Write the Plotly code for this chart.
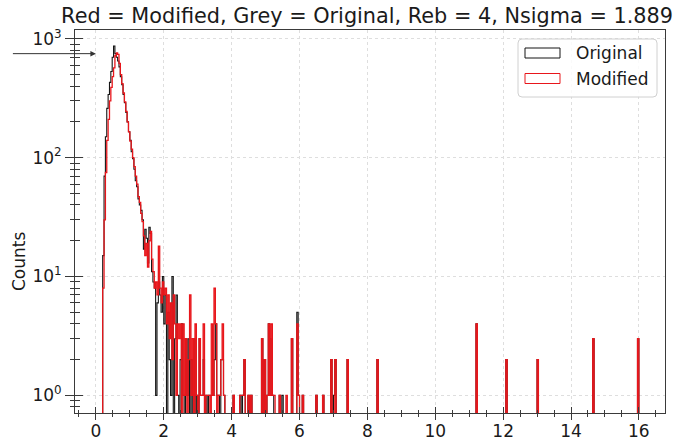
import numpy as np
import plotly.graph_objects as go

# ---------------- data ----------------
bin_start = 0.20
bin_width = 0.04
n_bins = 395

# counts of the dense core, bins starting at 0.20, 0.24, ... 2.96
original_core = [15, 70, 150, 260, 340, 430, 530, 700, 870, 750,
                 700, 650, 580, 480, 410, 340, 290, 240, 200, 165,
                 140, 112, 98, 80, 64, 57, 45, 40, 36, 30,
                 17, 25, 21, 13, 26, 23, 11, 9, 8, 1,
                 6, 9, 7, 5, 10, 4, 7, 0, 5, 2,
                 1, 10, 0, 3, 7, 1, 0, 2, 4, 1,
                 0, 3, 1, 3, 0, 2, 0, 3, 0, 1]
modified_core = [8, 30, 75, 140, 210, 300, 390, 480, 570, 720,
                 760, 740, 620, 500, 420, 350, 295, 245, 200, 165,
                 138, 118, 100, 84, 70, 60, 47, 42, 34, 29,
                 22, 15, 19, 12, 20, 24, 14, 11, 8, 9,
                 7, 18, 8, 6, 9, 7, 8, 4, 7, 3,
                 6, 2, 7, 4, 1, 4, 3, 4, 0, 4,
                 1, 3, 0, 2, 7, 1, 3, 0, 4, 1]

# sparse tail: left bin edge and counts
tail_edges = [3.04, 3.08, 3.12, 3.16, 3.24, 3.28, 3.32, 3.36, 3.40, 3.44,
              3.48, 3.52, 3.56, 3.60, 3.64, 3.68, 3.72, 3.76, 4.04, 4.24,
              4.28, 4.32, 4.36, 4.48, 4.56, 4.88, 4.96, 5.04, 5.08, 5.12,
              5.16, 5.20, 5.24, 5.40, 5.48, 5.60, 5.76, 5.92, 5.96, 6.08,
              6.48, 6.68, 6.92, 7.00, 7.04, 7.40, 8.28, 11.20, 12.08, 13.00,
              14.64, 15.96]
tail_original = [3, 1, 1, 2, 1, 0, 1, 1, 1, 1,
                 2, 4, 1, 1, 0, 2, 2, 1, 1, 1,
                 0, 1, 2, 1, 1, 3, 2, 1, 4, 3,
                 1, 1, 0, 1, 1, 0, 3, 5, 1, 1,
                 1, 1, 2, 1, 2, 2, 2, 4, 2, 2,
                 3, 3]
tail_modified = [3, 1, 1, 4, 1, 1, 1, 0, 4, 1,
                 8, 4, 0, 1, 1, 2, 4, 1, 1, 1,
                 1, 1, 2, 1, 1, 3, 2, 1, 4, 1,
                 4, 1, 1, 1, 0, 1, 3, 4, 1, 1,
                 1, 1, 2, 0, 2, 2, 2, 4, 2, 2,
                 3, 3]

arrow_level = 750          # level marked by the arrow
title_text = "Red = Modified, Grey = Original, Reb = 4, Nsigma = 1.889"
y_tick_vals = [1, 10, 100, 1000]
y_tick_text = ["10<sup>0</sup>", "10<sup>1</sup>", "10<sup>2</sup>", "10<sup>3</sup>"]
legend_labels = ["Original", "Modified"]

# ---------------- build histograms ----------------
edges = bin_start + bin_width * np.arange(n_bins + 1)


def build(core, tail_vals):
    counts = np.zeros(n_bins)
    counts[:len(core)] = core
    for e, c in zip(tail_edges, tail_vals):
        counts[int(round((e - bin_start) / bin_width))] = c
    return counts


def step_xy(counts):
    floor = 1e-3  # zero counts fall off the bottom of the log axis
    y = np.where(counts > 0, counts, floor)
    xs = np.concatenate([[edges[0]], edges])
    ys = np.concatenate([[floor], y, [floor]])
    return xs, ys


xo, yo = step_xy(build(original_core, tail_original))
xm, ym = step_xy(build(modified_core, tail_modified))

BLACK = "#151515"
RED = "#e8161b"
AX = "#3a3a3a"
FONT = "DejaVu Sans"

fig = go.Figure()
fig.add_trace(go.Scatter(x=xo, y=yo, mode="lines", name=legend_labels[0],
                         line=dict(color=BLACK, width=1.1, shape="hv"),
                         showlegend=False))
fig.add_trace(go.Scatter(x=xm, y=ym, mode="lines", name=legend_labels[1],
                         line=dict(color=RED, width=1.3, shape="hv"),
                         showlegend=False))
# invisible trace to carry the overlay axes (inner halves of the ticks)
fig.add_trace(go.Scatter(x=[8], y=[10], xaxis="x2", yaxis="y2", mode="markers",
                         marker=dict(opacity=0), showlegend=False, hoverinfo="skip"))

x_range = [-0.616, 16.77]
y_range = [-0.148, 3.074]
y_minor = [m * 10 ** k for k in range(-1, 3) for m in range(2, 10)]
y_minor = [v for v in y_minor if v >= 0.75]

grid = dict(showgrid=True, gridcolor="#dedede", griddash="dot", gridwidth=1)

fig.update_layout(
    width=683, height=444, autosize=False,
    margin=dict(l=75, r=18, t=30, b=31, autoexpand=False),
    paper_bgcolor="white", plot_bgcolor="white",
    font=dict(family=FONT, size=17, color="#1a1a1a"),
    title=dict(text=title_text, x=0.495, xref="paper", xanchor="center",
               y=1 - 16 / 444, yref="container", yanchor="middle",
               font=dict(family=FONT, size=20.8, color="#1a1a1a")),
    xaxis=dict(range=x_range, tick0=0, dtick=2, ticks="outside", ticklen=6,
               tickwidth=1, tickcolor=AX, showline=True, linecolor=AX,
               linewidth=1, mirror=True, zeroline=False, automargin=False,
               ticklabelstandoff=-3,
               tickfont=dict(family=FONT, size=17),
               minor=dict(ticks="outside", ticklen=3, dtick=0.5, tick0=0,
                          tickcolor=AX, showgrid=False),
               **grid),
    xaxis2=dict(range=x_range, overlaying="x", anchor="y2", side="bottom",
                tick0=0, dtick=2, ticks="inside", ticklen=6, tickwidth=1,
                tickcolor=AX, showticklabels=False, showgrid=False,
                zeroline=False, showline=False, automargin=False,
                minor=dict(ticks="inside", ticklen=3, dtick=0.5, tick0=0,
                           tickcolor=AX, showgrid=False)),
    yaxis=dict(type="log", range=y_range, tickvals=y_tick_vals,
               ticktext=y_tick_text, ticks="outside", ticklen=9, tickwidth=1,
               tickcolor=AX, showline=True, linecolor=AX, linewidth=1,
               mirror=True, zeroline=False, automargin=False,
               tickfont=dict(family=FONT, size=17),
               minor=dict(ticks="outside", ticklen=4, tickvals=y_minor,
                          tickcolor=AX, showgrid=False),
               **grid),
    yaxis2=dict(type="log", range=y_range, overlaying="y", anchor="x2",
                side="left", tickvals=y_tick_vals, ticks="inside", ticklen=8,
                tickwidth=1, tickcolor=AX, showticklabels=False,
                showgrid=False, zeroline=False, showline=False,
                automargin=False,
                minor=dict(ticks="inside", ticklen=5, tickvals=y_minor,
                           tickcolor=AX, showgrid=False)),
)

# arrow pointing at the peak level
fig.add_annotation(x=0, y=np.log10(arrow_level), xref="x", yref="y",
                   ax=-87, ay=0, axref="pixel", ayref="pixel", text=" ",
                   showarrow=True, arrowhead=2, arrowsize=1.1, arrowwidth=1,
                   arrowcolor="#333333")

# y label
fig.add_annotation(text="Counts", x=(19 - 75) / 590, y=(413 - 262) / 383,
                   xref="paper", yref="paper", showarrow=False, textangle=-90,
                   font=dict(family=FONT, size=17, color="#1a1a1a"),
                   xanchor="center", yanchor="middle")


# legend (matplotlib-style: outlined patches)
def px_x(p):
    return (p - 75) / 590


def px_y(p):
    return (413 - p) / 383


bx0, bx1, by0, by1 = 518, 657, 39, 97
r = 4
path = (f"M {px_x(bx0 + r)},{px_y(by0)} L {px_x(bx1 - r)},{px_y(by0)} "
        f"Q {px_x(bx1)},{px_y(by0)} {px_x(bx1)},{px_y(by0 + r)} "
        f"L {px_x(bx1)},{px_y(by1 - r)} Q {px_x(bx1)},{px_y(by1)} {px_x(bx1 - r)},{px_y(by1)} "
        f"L {px_x(bx0 + r)},{px_y(by1)} Q {px_x(bx0)},{px_y(by1)} {px_x(bx0)},{px_y(by1 - r)} "
        f"L {px_x(bx0)},{px_y(by0 + r)} Q {px_x(bx0)},{px_y(by0)} {px_x(bx0 + r)},{px_y(by0)} Z")
fig.add_shape(type="path", path=path, xref="paper", yref="paper",
              line=dict(color="#d0d0d0", width=1),
              fillcolor="rgba(255,255,255,0.85)", layer="above")

for label, color, cy in [(legend_labels[0], BLACK, 53), (legend_labels[1], RED, 78.5)]:
    fig.add_shape(type="rect", xref="paper", yref="paper",
                  x0=px_x(525), x1=px_x(560), y0=px_y(cy + 5), y1=px_y(cy - 5),
                  line=dict(color=color, width=1), fillcolor="rgba(0,0,0,0)",
                  layer="above")
    fig.add_annotation(text=label, x=px_x(574), y=px_y(cy), xref="paper",
                       yref="paper", showarrow=False, xanchor="left",
                       yanchor="middle",
                       font=dict(family=FONT, size=17, color="#1a1a1a"))

fig.write_html("out.html")
